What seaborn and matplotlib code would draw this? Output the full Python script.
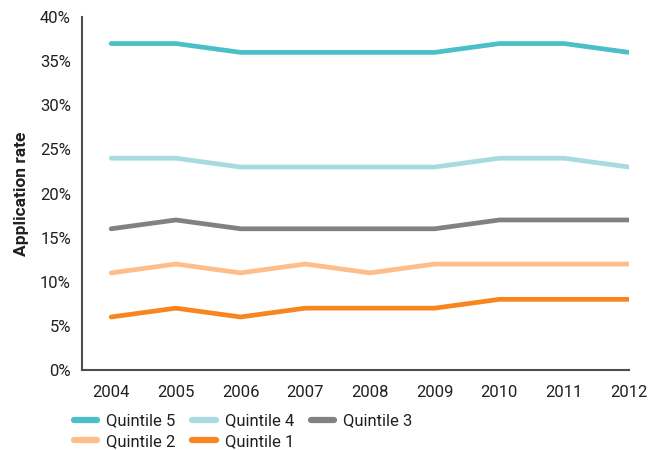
import matplotlib
matplotlib.use("Agg")
import matplotlib.pyplot as plt
import seaborn as sns
import pandas as pd
from matplotlib.lines import Line2D
from matplotlib.ticker import PercentFormatter

years = [2004, 2005, 2006, 2007, 2008, 2009, 2010, 2011, 2012]
quintile_5 = [37, 37, 36, 36, 36, 36, 37, 37, 36]
quintile_4 = [24, 24, 23, 23, 23, 23, 24, 24, 23]
quintile_3 = [16, 17, 16, 16, 16, 16, 17, 17, 17]
quintile_2 = [11, 12, 11, 12, 11, 12, 12, 12, 12]
quintile_1 = [6, 7, 6, 7, 7, 7, 8, 8, 8]

series_names = ["Quintile 5", "Quintile 4", "Quintile 3", "Quintile 2", "Quintile 1"]
series_values = [quintile_5, quintile_4, quintile_3, quintile_2, quintile_1]
colors = ["#4bbfc8", "#a8dbe0", "#808184", "#fdbe8b", "#f7861e"]

rows = []
for name, vals in zip(series_names, series_values):
    for y, v in zip(years, vals):
        rows.append({"Year": y, "Rate": v, "Quintile": name})
df = pd.DataFrame(rows)

sns.set_style("white")
plt.rcParams["font.family"] = ["Roboto", "DejaVu Sans"]
text_color = "#231f20"

fig = plt.figure(figsize=(6.51, 4.5), dpi=100)
ax = fig.add_axes([0.126, 0.178, 0.840, 0.784])

sns.lineplot(data=df, x="Year", y="Rate", hue="Quintile",
             hue_order=series_names, palette=colors, linewidth=3.4,
             legend=False, ax=ax, solid_capstyle="round")

ax.set_xlim(2003.55, 2012)
ax.set_ylim(0, 40)
ax.set_xticks(years)
ax.set_xticks([2003.55], minor=True)
ax.set_yticks(range(0, 41, 5))
ax.yaxis.set_major_formatter(PercentFormatter(decimals=0))

for side in ["top", "right"]:
    ax.spines[side].set_visible(False)
for side in ["left", "bottom"]:
    ax.spines[side].set_color("#4d4d4f")
    ax.spines[side].set_linewidth(1.5)

ax.tick_params(axis="both", which="both", direction="out", length=5, width=1.2,
               color="#4d4d4f", labelsize=12, labelcolor=text_color, pad=3)
ax.tick_params(axis="x", pad=6)
ax.set_xlabel("")
ax.set_ylabel("Application rate", fontsize=12.5, fontweight="bold",
              color=text_color, labelpad=8)

# legend laid out row-wise: Q5 Q4 Q3 / Q2 Q1
handles = {n: Line2D([0], [0], color=c, lw=4.5, solid_capstyle="round")
           for n, c in zip(series_names, colors)}
order = ["Quintile 5", "Quintile 2", "Quintile 4", "Quintile 1", "Quintile 3"]
fig.legend([handles[n] for n in order], order, ncol=3, loc="lower left",
           bbox_to_anchor=(0.112, 0.0), frameon=False, fontsize=12,
           borderpad=0.05, borderaxespad=0,
           handlelength=1.4, handletextpad=0.55, columnspacing=1.0,
           labelspacing=0.35, labelcolor=text_color)

fig.savefig("out.png", dpi=100)
